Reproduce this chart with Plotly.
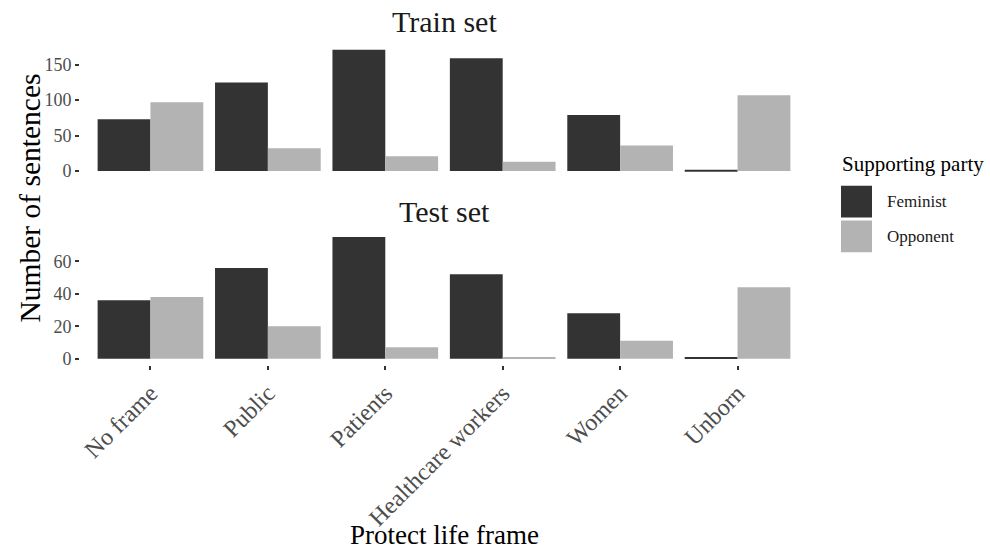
import plotly.graph_objects as go

categories = ["No frame", "Public", "Patients", "Healthcare workers", "Women", "Unborn"]
train_feminist = [73, 125, 171, 159, 79, 2]
train_opponent = [97, 32, 21, 13, 36, 107]
test_feminist = [36, 56, 75, 52, 28, 1]
test_opponent = [38, 20, 7, 1, 11, 44]
train_ticks = [0, 50, 100, 150]
test_ticks = [0, 20, 40, 60]
parties = ["Feminist", "Opponent"]
colors = {"Feminist": "#333333", "Opponent": "#b3b3b3"}

W, H = 990, 552
FONT = "Liberation Serif"
GRAY = "#4d4d4d"

def py(pix):
    return 1 - pix / H

def px(pix):
    return pix / W

fig = go.Figure()
series = [
    ("x", "y", train_feminist, "Feminist"),
    ("x", "y", train_opponent, "Opponent"),
    ("x2", "y2", test_feminist, "Feminist"),
    ("x2", "y2", test_opponent, "Opponent"),
]
for xa, ya, vals, party in series:
    fig.add_trace(go.Bar(
        x=categories, y=vals, name=party, xaxis=xa, yaxis=ya,
        marker=dict(color=colors[party], line=dict(width=0)),
        showlegend=False,
    ))

x_dom = [px(80), px(808)]
x_range = [-0.6, len(categories) - 0.4]
train_max = max(train_feminist + train_opponent)
test_max = max(test_feminist + test_opponent)

axis_common = dict(showgrid=False, zeroline=False, showline=False)
fig.update_layout(
    width=W, height=H,
    margin=dict(l=0, r=0, t=0, b=0),
    paper_bgcolor="white", plot_bgcolor="white",
    barmode="group", bargap=0.1, bargroupgap=0,
    font=dict(family=FONT, color=GRAY),
    xaxis=dict(domain=x_dom, anchor="y", range=x_range, showticklabels=False,
               ticks="", **axis_common),
    yaxis=dict(domain=[py(178.4), py(44.1)], anchor="x",
               range=[-0.05 * train_max, 1.05 * train_max],
               tickvals=train_ticks, ticks="outside", ticklen=4, tickwidth=1.5,
               tickcolor="#333333", tickfont=dict(size=18, color=GRAY, family=FONT),
               **axis_common),
    xaxis2=dict(domain=x_dom, anchor="y2", range=x_range, ticks="outside", ticklen=4,
                tickwidth=1.5, tickcolor="#333333", tickangle=-45,
                tickfont=dict(size=24, color=GRAY, family=FONT), **axis_common),
    yaxis2=dict(domain=[py(367.4), py(232.7)], anchor="x2",
                range=[-0.05 * test_max, 1.05 * test_max],
                tickvals=test_ticks, ticks="outside", ticklen=4, tickwidth=1.5,
                tickcolor="#333333", tickfont=dict(size=18, color=GRAY, family=FONT),
                **axis_common),
)

ann = [
    dict(text="Train set", x=0.5 * (x_dom[0] + x_dom[1]), y=py(22), size=30, color="#1a1a1a"),
    dict(text="Test set", x=0.5 * (x_dom[0] + x_dom[1]), y=py(213), size=30, color="#1a1a1a"),
    dict(text="Protect life frame", x=0.5 * (x_dom[0] + x_dom[1]), y=py(539), size=27, color="black"),
    dict(text="Supporting party", x=px(913), y=py(165), size=21, color="black"),
]
for a in ann:
    fig.add_annotation(text=a["text"], x=a["x"], y=a["y"], xref="paper", yref="paper",
                       showarrow=False, xanchor="center", yanchor="middle",
                       font=dict(size=a["size"], color=a["color"], family=FONT))
fig.add_annotation(text="Number of sentences", x=px(30), y=py(200), xref="paper", yref="paper",
                   showarrow=False, textangle=-90, xanchor="center", yanchor="middle",
                   font=dict(size=29.5, color="black", family=FONT))

# legend keys
key_top = [187, 222]
for party, top in zip(parties, key_top):
    fig.add_shape(type="rect", xref="paper", yref="paper",
                  x0=px(841), x1=px(872), y0=py(top + 32), y1=py(top),
                  fillcolor=colors[party], line=dict(width=0))
    fig.add_annotation(text=party, x=px(885), y=py(top + 16), xref="paper", yref="paper",
                       showarrow=False, xanchor="left", yanchor="middle",
                       font=dict(size=17, color="#1a1a1a", family=FONT))

fig.write_html("out.html", config={"displayModeBar": False},
               post_script="document.body.style.margin='0px';")
